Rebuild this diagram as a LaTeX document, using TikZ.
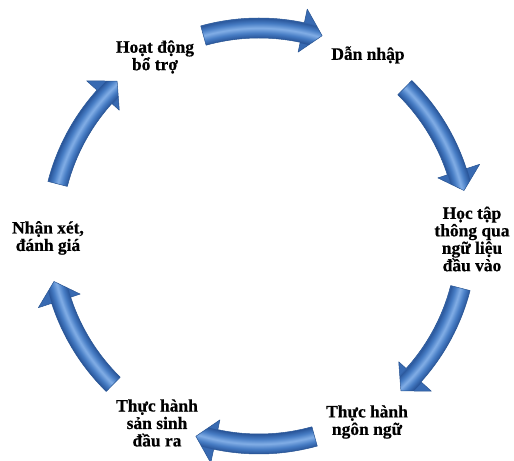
\documentclass[tikz,border=0pt]{standalone}
\usepackage{fontspec}
\setmainfont{Liberation Serif}[BoldFeatures={FakeBold=0.6}]
\definecolor{arrowlight}{RGB}{130,174,230}
\definecolor{arrowmid}{RGB}{70,124,196}
\definecolor{arrowdark}{RGB}{40,84,152}
\definecolor{arrowhead}{RGB}{56,106,178}
\definecolor{arrowline}{RGB}{40,84,146}
\pgfdeclareradialshading{tube}{\pgfpoint{0bp}{0bp}}{%
  color(0bp)=(arrowhead); color(197.5bp)=(arrowhead);
  color(198bp)=(arrowdark); color(203bp)=(arrowmid);
  color(208bp)=(arrowlight); color(213bp)=(arrowmid);
  color(218bp)=(arrowdark); color(218.5bp)=(arrowhead);
  color(240bp)=(arrowhead)}
\tikzset{
  lbl/.style={font=\bfseries\fontsize{17.5}{17.5}\selectfont, align=center, inner sep=0pt},
  arrowedge/.style={draw=arrowline, line width=0.5pt, line join=round},
}
\begin{document}
\begin{tikzpicture}[x=1bp,y=1bp]
\useasboundingbox (0,0) rectangle (514,461);
% labels (y-up: y = 461 - pixel y)
\node[lbl] (a) at (155,404) {Hoạt động\\bổ trợ};
\node[lbl] (b) at (368,406) {Dẫn nhập};
\node[lbl] (c) at (472,222) {Học tập\\thông qua\\ngữ liệu\\đầu vào};
\node[lbl] (d) at (367,39) {Thực hành\\ngôn ngữ};
\node[lbl] (e) at (157,38) {Thực hành\\sản sinh\\đầu ra};
\node[lbl] (f) at (48,223) {Nhận xét,\\đánh giá};
% cycle arrows
\begin{scope}[shift={(259,225)}]
\foreach \c in {90,30,-30,-90,-150,150}{
  \pgfmathsetmacro\ta{\c+15.5}
  \pgfmathsetmacro\hb{\c-12}
  \pgfmathsetmacro\tp{\c-17.5}
  \def\arrowpath{(\ta:218) arc[start angle=\ta, end angle=\hb, radius=218]
     -- (\hb:232) -- (\tp:210) -- (\hb:188) -- (\hb:198)
     arc[start angle=\hb, end angle=\ta, radius=198] -- cycle}
  \begin{scope}
    \clip \arrowpath;
    \pgftext{\pgfuseshading{tube}}
  \end{scope}
  \draw[arrowedge] \arrowpath;
}
\end{scope}
\end{tikzpicture}
\end{document}
